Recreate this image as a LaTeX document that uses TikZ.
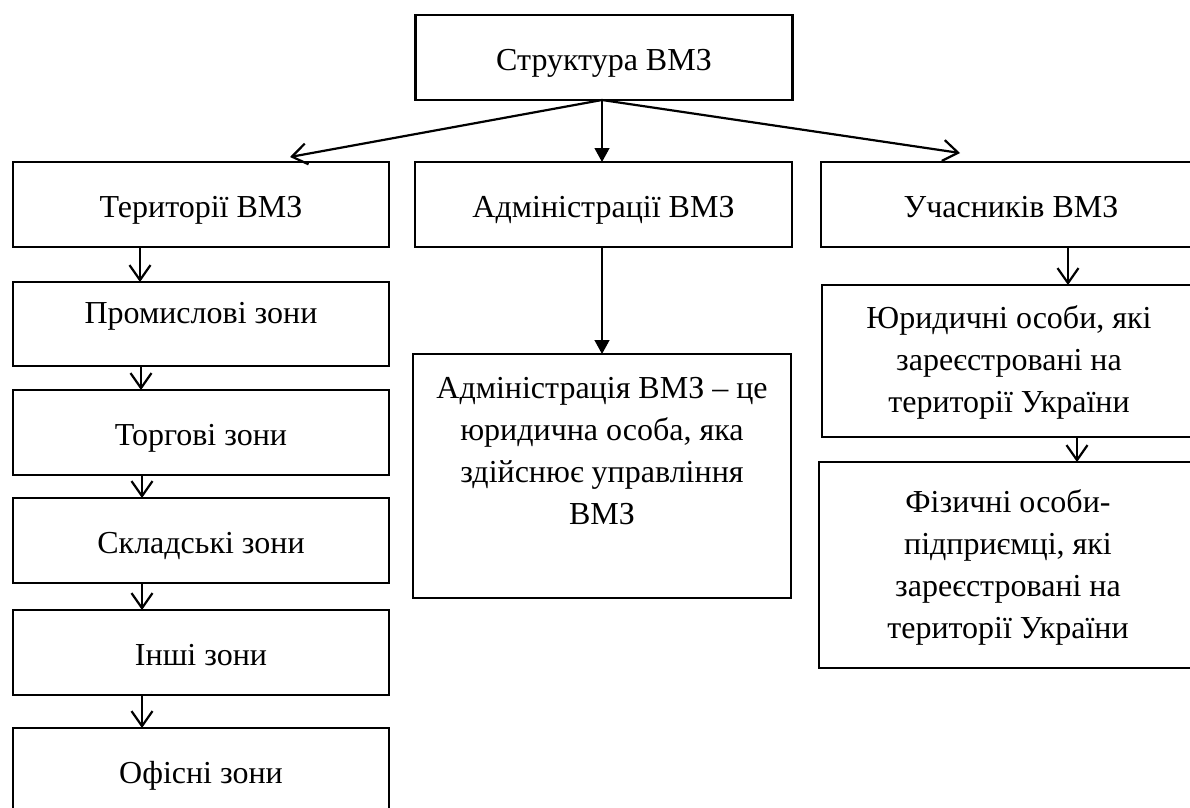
\documentclass[tikz,border=0pt]{standalone}
\usepackage{fontspec}
\setmainfont{Liberation Serif}
\usetikzlibrary{arrows.meta}
\begin{document}
\begin{tikzpicture}[x=1pt,y=-1pt,
  box/.style={draw, line width=2.4pt, inner sep=0pt, outer sep=0pt, align=center,
    text height=26pt, text depth=0pt,
    font=\fontsize{32}{42}\selectfont},
  emptybox/.style={draw, line width=2.4pt, inner sep=0pt, outer sep=0pt},
  txt/.style={inner sep=0pt, align=center, font=\fontsize{32}{42}\selectfont},
  openarr/.style={line width=2.2pt, -{Straight Barb[length=15pt,width=21pt,line width=2.2pt]}},
  filledarr/.style={line width=1.3pt, -{Triangle[length=14pt,width=15pt]}}]
\useasboundingbox (0,0) rectangle (1190,807);
% top
\node[box, minimum width=377pt, minimum height=85pt] (top) at (604,57.5) {Структура ВМЗ};
% row 2
\node[box, minimum width=376pt, minimum height=85pt] (T) at (201,204.5) {Території ВМЗ};
\node[box, minimum width=377pt, minimum height=85pt] (A) at (603.5,204.5) {Адміністрації ВМЗ};
\node[box, minimum width=380pt, minimum height=85pt] (U) at (1011,204.5) {Учасників ВМЗ};
% left column
\node[box, minimum width=376pt, minimum height=84pt, text height=21pt, text depth=22pt] (P) at (201,324) {Промислові зони};
\node[box, minimum width=376pt, minimum height=85pt] (Tz) at (201,432.5) {Торгові зони};
\node[box, minimum width=376pt, minimum height=85pt] (S) at (201,540.5) {Складські зони};
\node[box, minimum width=376pt, minimum height=85pt] (I) at (201,652.5) {Інші зони};
\node[box, minimum width=376pt, minimum height=85pt] (O) at (201,770.5) {Офісні зони};
% middle
\node[emptybox, minimum width=378pt, minimum height=244pt] (D) at (602,476) {};
\node[txt] (Dt) at (602,451) {Адміністрація ВМЗ – це\\юридична особа, яка\\здійснює управління\\ВМЗ};
% right column
\node[emptybox, minimum width=380pt, minimum height=152pt] (Y) at (1012,361) {};
\node[txt] (Yt) at (1009,362) {Юридичні особи, які\\зареєстровані на\\території України};
\node[emptybox, minimum width=384pt, minimum height=206pt] (F) at (1011,565) {};
\node[txt] (Ft) at (1008,567) {Фізичні особи-\\підприємці, які\\зареєстровані на\\території України};
% connectors
\draw[openarr] ([xshift=-2pt]top.south) -- ([xshift=89pt,yshift=5pt]T.north);
\draw[filledarr] ([xshift=-2pt]top.south) -- ([xshift=-1.5pt]A.north);
\draw[openarr] ([xshift=-2pt]top.south) -- ([xshift=-51pt,yshift=9pt]U.north);
\draw[openarr] ([xshift=-61pt]T.south) -- ([xshift=-61pt]P.north);
\draw[openarr] ([xshift=-60pt]P.south) -- ([xshift=-60pt]Tz.north);
\draw[openarr] ([xshift=-59pt]Tz.south) -- ([xshift=-59pt]S.north);
\draw[openarr] ([xshift=-59pt]S.south) -- ([xshift=-59pt]I.north);
\draw[openarr] ([xshift=-59pt]I.south) -- ([xshift=-59pt]O.north);
\draw[filledarr] ([xshift=-1.5pt]A.south) -- (D.north);
\draw[openarr] ([xshift=57pt]U.south) -- ([xshift=56pt]Y.north);
\draw[openarr] ([xshift=65pt]Y.south) -- ([xshift=66pt]F.north);
\end{tikzpicture}
\end{document}
